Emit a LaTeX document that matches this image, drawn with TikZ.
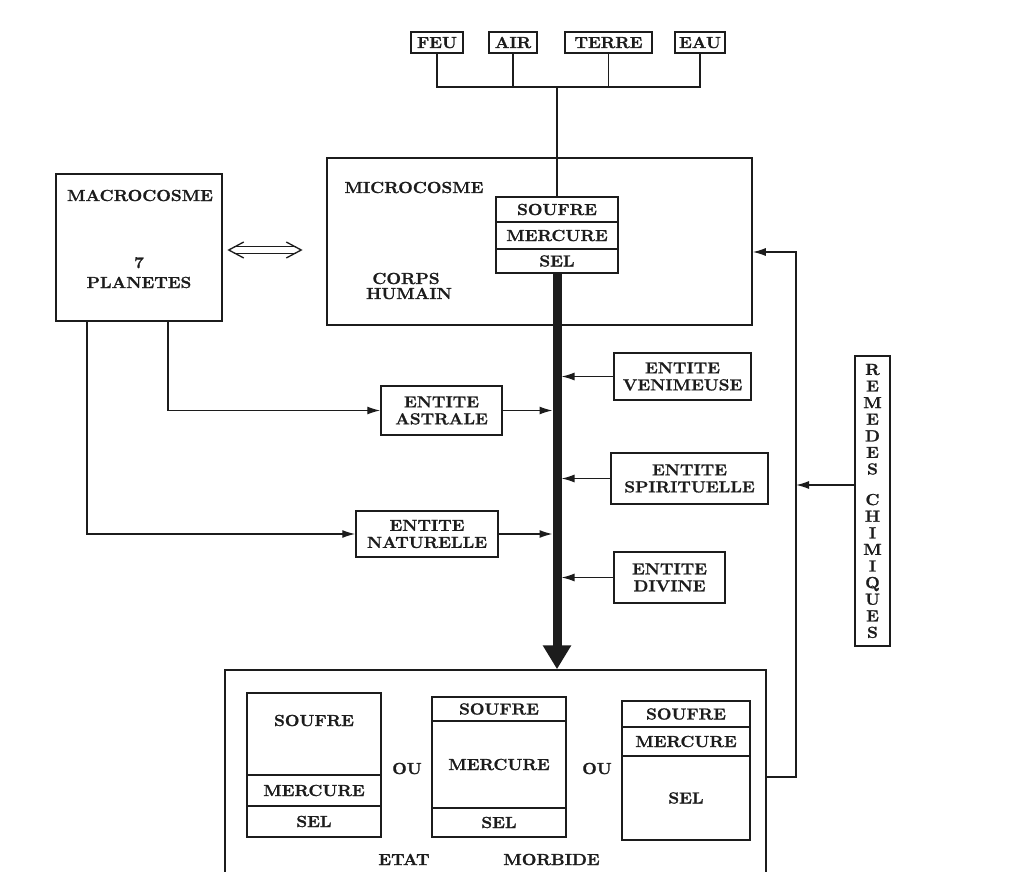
\documentclass[tikz,border=0pt]{standalone}
\usepackage{fontspec}
\usetikzlibrary{arrows.meta}
\newfontfamily\dgfam{Latin Modern Roman}[FakeStretch=1.08, FakeBold=1.2]
\newcommand\dgfont{\dgfam\bfseries\fontsize{16}{17}\selectfont}
\definecolor{ink}{HTML}{1C1C1C}
\begin{document}
\begin{tikzpicture}[x=1pt,y=-1pt,
  every node/.style={font=\dgfont, text=ink},
  box/.style={draw=ink, line width=1.5pt, inner sep=0pt, align=center},
  sbox/.style={box, text height=11pt, text depth=0pt},
  lbl/.style={inner sep=0pt, anchor=base},
  conn/.style={draw=ink, line width=1.4pt},
  arr/.style={conn, -{Latex[length=13pt,width=8pt]}}
]
\useasboundingbox (0,0) rectangle (1034,872);
\clip (0,0) rectangle (1034,872);
\fill[white] (0,0) rectangle (1034,872);

% four elements
\node[sbox, minimum width=52pt, minimum height=21pt] (feu) at (437,42.5) {FEU};
\node[sbox, minimum width=48pt, minimum height=21pt] (air) at (513,42.5) {AIR};
\node[sbox, minimum width=87pt, minimum height=21pt] (terre) at (608.5,42.5) {TERRE};
\node[sbox, minimum width=50pt, minimum height=21pt] (eau) at (700,42.5) {EAU};
\coordinate (j) at (557,87);

% macrocosme
\node[box, minimum width=166pt, minimum height=147pt] (macro) at (139,247.5) {};
\node[lbl] (macroT) at (140,201) {MACROCOSME};
\node[lbl] (seven) at (139,268) {7};
\node[lbl] (planetes) at (139,288) {PLANETES};

% microcosme
\node[box, minimum width=425pt, minimum height=167pt] (micro) at (539.5,241.5) {};
\node[lbl] (microT) at (414,193) {MICROCOSME};
\node[lbl] (corps) at (406,284) {CORPS};
\node[lbl] (humain) at (409,299) {HUMAIN};
\node[sbox, fill=white, minimum width=122pt, minimum height=25pt] (soufre) at (557,209.5) {SOUFRE};
\node[sbox, fill=white, minimum width=122pt, minimum height=27pt] (mercure) at (557,235.5) {MERCURE};
\node[sbox, fill=white, minimum width=122pt, minimum height=24pt] (sel) at (557,261) {SEL};

% entities
\node[box, minimum width=137pt, minimum height=47pt] (venim) at (682.5,376.5) {ENTITE\\VENIMEUSE};
\node[box, minimum width=121pt, minimum height=49pt] (astral) at (441.5,410.5) {ENTITE\\ASTRALE};
\node[box, minimum width=157pt, minimum height=51pt] (spirit) at (689.5,478.5) {ENTITE\\SPIRITUELLE};
\node[box, minimum width=142pt, minimum height=46pt] (natur) at (427,534) {ENTITE\\NATURELLE};
\node[box, minimum width=111pt, minimum height=51pt] (divine) at (669.5,577.5) {ENTITE\\DIVINE};

% remedes
\node[box, minimum width=35pt, minimum height=290pt, font=\dgfont\fontsize{16}{16.6}\selectfont] (remedes) at (872.5,501)
  {R\\E\\M\\E\\D\\E\\S\\[14pt]C\\H\\I\\M\\I\\Q\\U\\E\\S};

% bottom frame
\node[box, minimum width=541pt, minimum height=230pt] (frame) at (495.5,785) {};
\node[sbox, minimum width=134pt, minimum height=82pt, text depth=27pt] (s1) at (314,734) {SOUFRE};
\node[sbox, minimum width=134pt, minimum height=31pt] (m1) at (314,790.5) {MERCURE};
\node[sbox, minimum width=134pt, minimum height=31pt] (l1) at (314,821.5) {SEL};
\node[sbox, minimum width=134pt, minimum height=24pt] (s2) at (499,709) {SOUFRE};
\node[sbox, minimum width=134pt, minimum height=87pt] (m2) at (499,764.5) {MERCURE};
\node[sbox, minimum width=134pt, minimum height=29pt] (l2) at (499,822.5) {SEL};
\node[sbox, minimum width=128pt, minimum height=26pt] (s3) at (686,714) {SOUFRE};
\node[sbox, minimum width=128pt, minimum height=29pt] (m3) at (686,741.5) {MERCURE};
\node[sbox, minimum width=128pt, minimum height=84pt] (l3) at (686,798) {SEL};
\node[lbl] (ou1) at (407,774) {OU};
\node[lbl] (ou2) at (597,774) {OU};
\node[lbl] (etat) at (404,865) {ETAT};
\node[lbl] (morbide) at (551.5,865) {MORBIDE};

% connectors: elements
\draw[conn] (feu.south) -- (feu.south |- j) -- (eau.south |- j) -- (eau.south);
\draw[conn] (air.south) -- (air.south |- j);
\draw[conn] (terre.south) -- (terre.south |- j);
\draw[conn] (j) -- (soufre.north);

% macro <-> micro : open double arrow
\coordinate (da) at ([xshift=6pt,yshift=-2.5pt]macro.east);
\coordinate (db0) at (da -| micro.west);
\coordinate (db) at ([xshift=-25pt]db0);
\draw[conn, line width=1.3pt, line join=miter] ([xshift=15pt,yshift=8pt]da) -- (da) -- ([xshift=15pt,yshift=-8pt]da);
\draw[conn, line width=1.3pt, line join=miter] ([xshift=-15pt,yshift=8pt]db) -- (db) -- ([xshift=-15pt,yshift=-8pt]db);
\draw[conn, line width=1.3pt] ([xshift=5pt,yshift=3.2pt]da) -- ([xshift=-5pt,yshift=3.2pt]db);
\draw[conn, line width=1.3pt] ([xshift=5pt,yshift=-3.2pt]da) -- ([xshift=-5pt,yshift=-3.2pt]db);

% thick bar
\draw[ink, line width=9pt, -{Triangle[length=24pt,width=27pt]}] (sel.south) -- (sel.south |- frame.north);
\coordinate (barL) at (552.5,0);
\coordinate (barR) at (561.5,0);

% entity arrows
\draw[arr] ([xshift=29pt]macro.south) |- (astral.west);
\draw[arr] ([xshift=-52pt]macro.south) |- (natur.west);
\draw[arr] (astral.east) -- (astral.east -| barL);
\draw[arr] (natur.east) -- (natur.east -| barL);
\draw[arr] (venim.west) -- (venim.west -| barR);
\draw[arr] (spirit.west) -- (spirit.west -| barR);
\draw[arr] (divine.west) -- (divine.west -| barR);

% remedes loop
\coordinate (rv) at (796,777);
\coordinate (mi) at ([yshift=-10.5pt]micro.east);
\draw[arr] (frame.east |- rv) -- (rv) |- (mi);
\coordinate (ra) at ([yshift=16pt]remedes.west);
\draw[arr] (ra) -- (ra -| rv);
\end{tikzpicture}
\end{document}
